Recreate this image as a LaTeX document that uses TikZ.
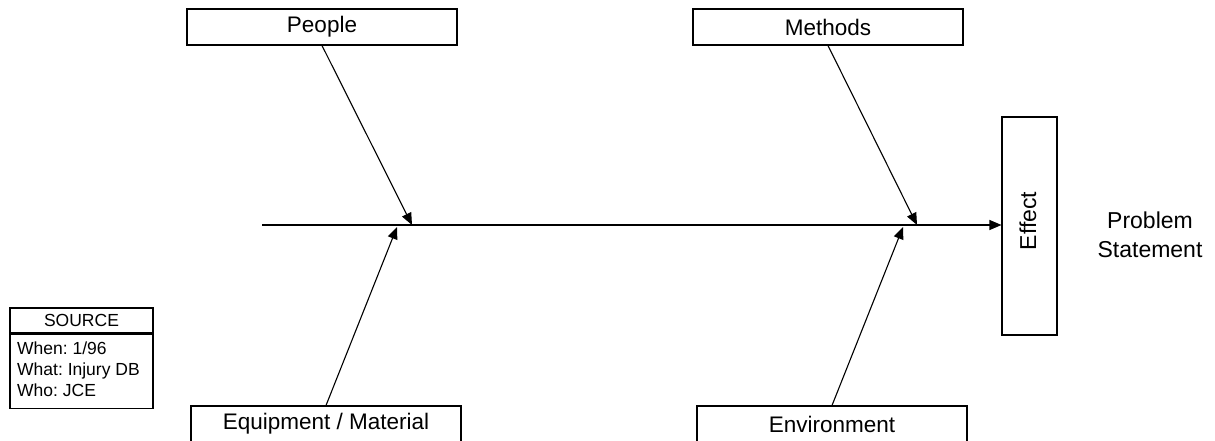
\documentclass[tikz,border=0pt]{standalone}
\usepackage{fontspec}
\setmainfont{Liberation Sans}
\usetikzlibrary{arrows.meta}
\frenchspacing
\begin{document}
\begin{tikzpicture}[x=1pt,y=-1pt,
  catbox/.style={draw,line width=1.1pt,minimum width=270pt,minimum height=36pt,inner sep=0pt,font=\fontsize{22.5}{27}\selectfont},
  bone/.style={line width=1.1pt,-{Triangle[length=12pt,width=10pt]}},
  small/.style={font=\fontsize{17.5}{21}\selectfont}]
\useasboundingbox (0,0) rectangle (1215,441);
\node[catbox] (people) at (322,27) {People};
\node[catbox] (methods) at (828,27) {Methods};
\node[catbox] (equip) at (326,424) {Equipment / Material};
\node[catbox] (env) at (832,424) {Environment};
\node[draw,line width=1.1pt,minimum width=55pt,minimum height=218pt,inner sep=0pt] (effect) at (1029.5,226) {};
\node[rotate=90,font=\fontsize{23}{27}\selectfont] (efftext) at (1028,221) {Effect};
\node[align=center,font=\fontsize{23}{29}\selectfont] (prob) at (1150,235) {Problem\\Statement};
\coordinate (spinestart) at (262,225);
\coordinate (tp) at (412,225);
\coordinate (tm) at (917,225);
\coordinate (te) at (397,227);
\coordinate (tv) at (903,227);
\draw[bone] (spinestart) -- (effect.west |- spinestart);
\draw[bone] (people.south) -- (tp);
\draw[bone] (methods.south) -- (tm);
\draw[bone] (equip.north) -- (te);
\draw[bone] (env.north) -- (tv);
% source box
\node[draw,line width=1.1pt,minimum width=143pt,minimum height=25pt,inner sep=0pt,font=\fontsize{17.5}{21}\selectfont] (srchead) at (81.5,320.5) {SOURCE};
\node[draw,line width=1.1pt,minimum width=143pt,minimum height=74pt,inner sep=0pt,anchor=north] (srcbody) at (srchead.south) {};
\node[small,anchor=north west,align=left,inner sep=0pt] (srctext) at (17,342) {When: 1/96\\What: Injury DB\\Who: JCE};
\end{tikzpicture}
\end{document}
